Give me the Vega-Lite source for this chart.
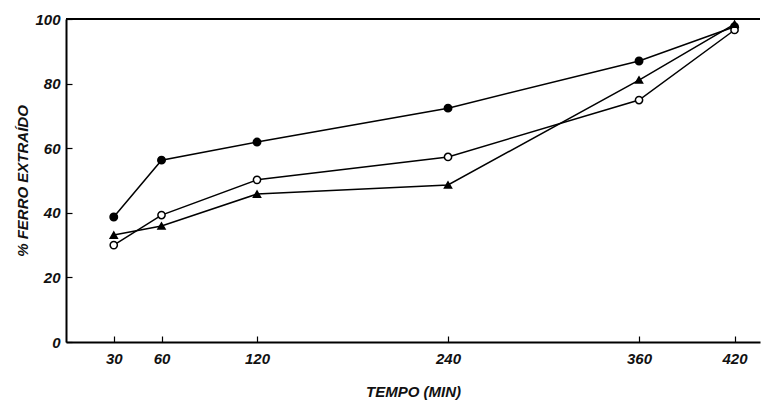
{
  "$schema": "https://vega.github.io/schema/vega-lite/v6.json",
  "width": 694,
  "height": 323,
  "autosize": "none",
  "padding": {"left": 66, "top": 19, "right": 3, "bottom": 64},
  "background": "white",
  "config": {"view": {"stroke": null}},
  "data": {"values": [
    {"t": 30, "pct": 38.7, "s": "A"},
    {"t": 60, "pct": 56.3, "s": "A"},
    {"t": 120, "pct": 61.9, "s": "A"},
    {"t": 240, "pct": 72.4, "s": "A"},
    {"t": 360, "pct": 87.0, "s": "A"},
    {"t": 420, "pct": 97.6, "s": "A"},
    {"t": 30, "pct": 30.0, "s": "B"},
    {"t": 60, "pct": 39.3, "s": "B"},
    {"t": 120, "pct": 50.2, "s": "B"},
    {"t": 240, "pct": 57.3, "s": "B"},
    {"t": 360, "pct": 74.9, "s": "B"},
    {"t": 420, "pct": 96.6, "s": "B"},
    {"t": 30, "pct": 33.1, "s": "C"},
    {"t": 60, "pct": 35.9, "s": "C"},
    {"t": 120, "pct": 45.8, "s": "C"},
    {"t": 240, "pct": 48.6, "s": "C"},
    {"t": 360, "pct": 81.1, "s": "C"},
    {"t": 420, "pct": 98.4, "s": "C"}
  ]},
  "encoding": {
    "x": {
      "field": "t", "type": "quantitative",
      "scale": {"domain": [0, 436], "nice": false, "zero": false},
      "axis": {
        "values": [30, 60, 120, 240, 360, 420],
        "title": "TEMPO (MIN)",
        "grid": false,
        "domainColor": "black", "domainWidth": 2,
        "tickColor": "black", "tickWidth": 1.2, "tickSize": -6,
        "labelPadding": 15,
        "labelFont": "Liberation Sans", "labelFontSize": 15, "labelFontWeight": "bold", "labelFontStyle": "italic", "labelColor": "#111",
        "titleFont": "Liberation Sans", "titleFontSize": 15, "titleFontWeight": "bold", "titleFontStyle": "italic", "titleColor": "#111",
        "titlePadding": 18
      }
    },
    "y": {
      "field": "pct", "type": "quantitative",
      "scale": {"domain": [0, 100], "nice": false},
      "axis": {
        "values": [0, 20, 40, 60, 80, 100],
        "title": "% FERRO EXTRAÍDO",
        "grid": false,
        "domainColor": "black", "domainWidth": 2,
        "tickColor": "black", "tickWidth": 1.2, "tickSize": -6,
        "labelPadding": 12,
        "labelFont": "Liberation Sans", "labelFontSize": 15, "labelFontWeight": "bold", "labelFontStyle": "italic", "labelColor": "#111",
        "titleFont": "Liberation Sans", "titleFontSize": 15, "titleFontWeight": "bold", "titleFontStyle": "italic", "titleColor": "#111",
        "titlePadding": 4
      }
    }
  },
  "layer": [
    {
      "mark": {"type": "rule", "color": "black", "strokeWidth": 2},
      "encoding": {"y": {"datum": 100}, "x": null}
    },
    {
      "mark": {"type": "line", "color": "black", "strokeWidth": 1.5, "interpolate": "linear"},
      "encoding": {"detail": {"field": "s"}}
    },
    {
      "mark": {"type": "point", "stroke": "black", "strokeWidth": 1.5, "opacity": 1, "filled": false},
      "encoding": {
        "shape": {"field": "s", "type": "nominal", "scale": {"domain": ["A", "B", "C"], "range": ["circle", "circle", "triangle-up"]}, "legend": null},
        "fill": {"field": "s", "type": "nominal", "scale": {"domain": ["A", "B", "C"], "range": ["black", "white", "black"]}, "legend": null},
        "size": {"field": "s", "type": "nominal", "scale": {"domain": ["A", "B", "C"], "range": [55, 50, 100]}, "legend": null}
      }
    }
  ]
}
